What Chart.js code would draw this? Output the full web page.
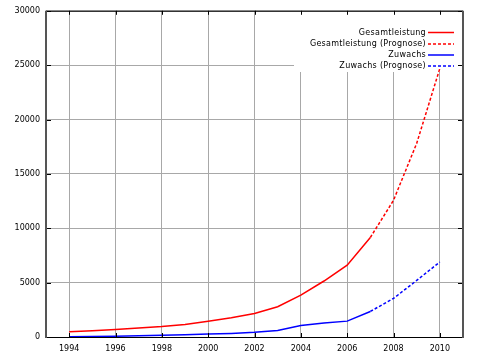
<!doctype html>
<html>
<head>
	<title>Gesamtleistung und Zuwachs</title>
	<script src="https://cdn.jsdelivr.net/npm/chart.js@4/dist/chart.umd.min.js"></script>
	<style>
		body { margin: 0; background: #fff; }
		canvas { display: block; }
	</style>
</head>
<body>
	<canvas id="chart-area" width="480" height="360"></canvas>
	<script>
		// values
		var years = [1994, 1995, 1996, 1997, 1998, 1999, 2000, 2001, 2002, 2003, 2004, 2005, 2006, 2007];
		var gesamt = [480, 580, 690, 820, 960, 1160, 1450, 1770, 2170, 2780, 3850, 5150, 6600, 9150];
		var zuwachs = [30, 50, 70, 110, 150, 200, 270, 330, 430, 600, 1050, 1280, 1460, 2350];

		var prognoseYears = [2007, 2008, 2009, 2010];
		var gesamtPrognose = [9150, 12570, 17800, 24700];
		var zuwachsPrognose = [2350, 3550, 5200, 6900];

		var xTicks = [1994, 1996, 1998, 2000, 2002, 2004, 2006, 2008, 2010];

		var labels = ['Gesamtleistung', 'Gesamtleistung (Prognose)', 'Zuwachs', 'Zuwachs (Prognose)'];

		var pts = function (xs, ys) {
			return xs.map(function (x, i) { return { x: x, y: ys[i] }; });
		};

		var fontSpec = { family: 'DejaVu Sans', size: 8 };

		// white legend box, gnuplot style (text right, sample line after it)
		var gnuplotFrame = {
			id: 'gnuplotFrame',
			beforeDatasetsDraw: function (chart) {
				var ctx = chart.ctx;
				ctx.save();
				ctx.fillStyle = '#fff';
				ctx.fillRect(294, 11, 168, 61);
				ctx.restore();
			},
			afterDatasetsDraw: function (chart) {
				var ctx = chart.ctx;
				var a = chart.chartArea;
				var xs = chart.scales.x, ys = chart.scales.y;
				ctx.save();

				// legend
				ctx.font = '8px "DejaVu Sans"';
				ctx.letterSpacing = '0.3px';
				ctx.textAlign = 'right';
				ctx.textBaseline = 'middle';
				ctx.fillStyle = '#000';
				var rows = [32.5, 44, 55, 66];
				chart.data.datasets.forEach(function (ds, i) {
					ctx.fillText(labels[i], 426, rows[i]);
					ctx.beginPath();
					ctx.setLineDash(ds.borderDash || []);
					ctx.strokeStyle = ds.borderColor;
					ctx.lineWidth = 1.5;
					ctx.moveTo(428, rows[i]);
					ctx.lineTo(454, rows[i]);
					ctx.stroke();
				});
				ctx.setLineDash([]);

				// inward ticks
				ctx.strokeStyle = '#000';
				ctx.lineWidth = 1;
				xs.ticks.forEach(function (t) {
					var px = Math.round(xs.getPixelForValue(t.value)) + 0.5;
					ctx.beginPath();
					ctx.moveTo(px, a.top); ctx.lineTo(px, a.top + 4);
					ctx.moveTo(px, a.bottom); ctx.lineTo(px, a.bottom - 4);
					ctx.stroke();
				});
				ys.ticks.forEach(function (t) {
					var py = Math.round(ys.getPixelForValue(t.value)) + 0.5;
					ctx.beginPath();
					ctx.moveTo(a.left, py); ctx.lineTo(a.left + 5, py);
					ctx.moveTo(a.right, py); ctx.lineTo(a.right - 5, py);
					ctx.stroke();
				});

				// border
				ctx.beginPath();
				ctx.strokeStyle = '#000';
				ctx.moveTo(a.left, a.top + 0.5); ctx.lineTo(a.right, a.top + 0.5);
				ctx.moveTo(a.left, a.bottom + 0.5); ctx.lineTo(a.right, a.bottom + 0.5);
				ctx.stroke();
				ctx.beginPath();
				ctx.strokeStyle = '#555';
				ctx.lineWidth = 2;
				ctx.moveTo(a.left, a.top); ctx.lineTo(a.left, a.bottom + 1);
				ctx.moveTo(a.right, a.top); ctx.lineTo(a.right, a.bottom + 1);
				ctx.stroke();
				ctx.restore();
			}
		};

		var config = {
			type: 'line',
			data: {
				datasets: [{
					data: pts(years, gesamt),
					borderColor: '#ff0000'
				}, {
					data: pts(prognoseYears, gesamtPrognose),
					borderColor: '#ff0000',
					borderDash: [3, 2]
				}, {
					data: pts(years, zuwachs),
					borderColor: '#0000ff'
				}, {
					data: pts(prognoseYears, zuwachsPrognose),
					borderColor: '#0000ff',
					borderDash: [3, 2]
				}]
			},
			options: {
				responsive: false,
				animation: false,
				layout: { padding: { top: 10, right: 17, left: 0, bottom: 0 } },
				elements: {
					point: { radius: 0 },
					line: { borderWidth: 1.5, tension: 0 }
				},
				plugins: {
					legend: { display: false },
					tooltip: { enabled: false }
				},
				scales: {
					x: {
						type: 'linear',
						min: 1993,
						max: 2011,
						border: { display: false },
						grid: { color: '#a8a8a8', drawTicks: false },
						afterBuildTicks: function (s) {
							s.ticks = xTicks.map(function (v) { return { value: v }; });
						},
						ticks: {
							padding: 7,
							color: '#000',
							font: fontSpec,
							maxRotation: 0,
							autoSkip: false,
							callback: function (v) { return String(v); }
						},
						afterFit: function (s) { s.height = 23; }
					},
					y: {
						min: 0,
						max: 30000,
						border: { display: false },
						grid: { color: '#a8a8a8', drawTicks: false },
						ticks: {
							stepSize: 5000,
							padding: 6,
							color: '#000',
							font: fontSpec,
							callback: function (v) { return String(v); }
						},
						afterFit: function (s) { s.width = 46; }
					}
				}
			},
			plugins: [gnuplotFrame]
		};

		window.onload = function () {
			var ctx = document.getElementById('chart-area').getContext('2d');
			window.myLine = new Chart(ctx, config);
		};
	</script>
</body>
</html>
